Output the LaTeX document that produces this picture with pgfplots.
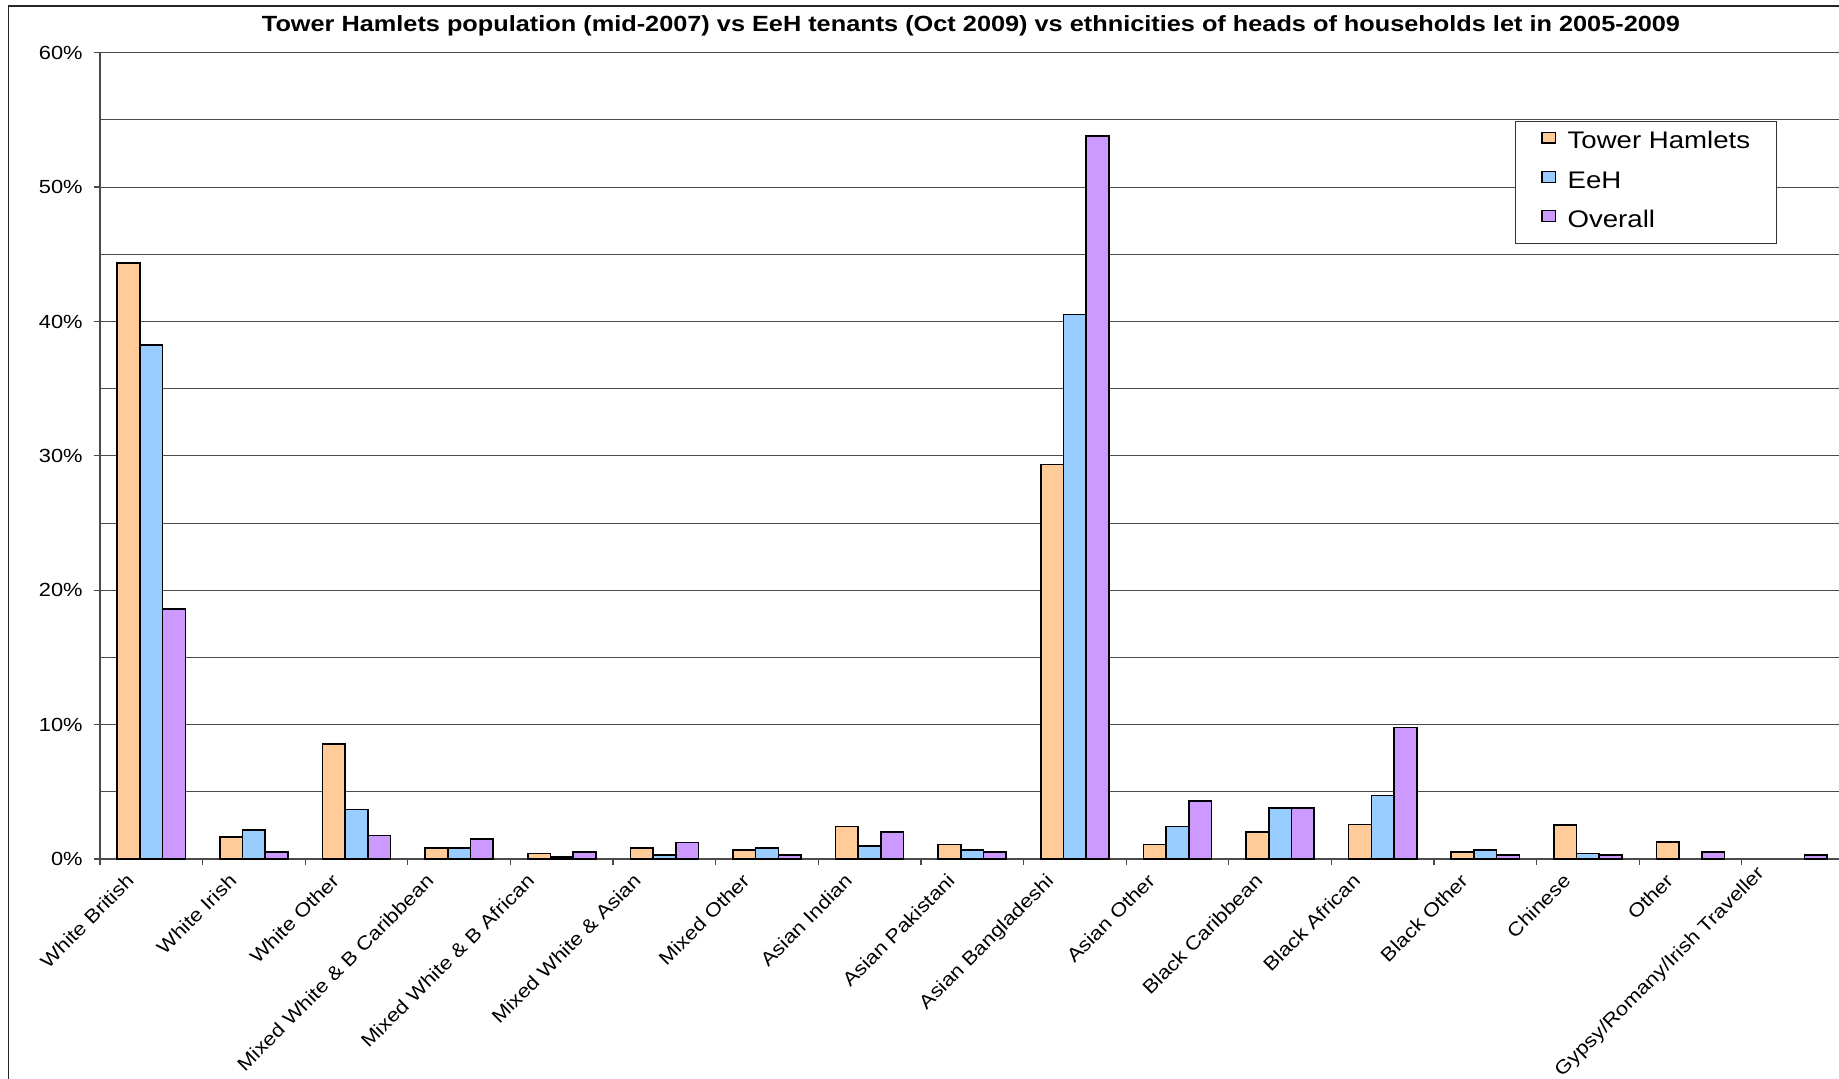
\documentclass[border=0pt]{standalone}
\usepackage{pgfplots}
\pgfplotsset{compat=1.18}
\usepackage{fontspec}
\setmainfont{Liberation Sans}[FakeStretch=1.15]

\definecolor{thorange}{HTML}{FFCC99}
\definecolor{eehblue}{HTML}{99CCFF}
\definecolor{allpurple}{HTML}{CC99FF}
\definecolor{gridgray}{HTML}{4A4A4A}

% nudge a rotated category label: #1 back along its baseline, #2 across it
\newcommand{\lblshift}[3]{\raisebox{0pt}[\dimexpr\height-#2\relax][\depth]{#3\hspace*{#1}}}

\begin{document}
\begin{tikzpicture}
% page: 1 px of the chart = 0.5pt
\useasboundingbox (0,0) rectangle (919.5pt,539pt);
\fill[white] (0,0) rectangle (919.5pt,539pt);

% chart frame (left and top edges)
\draw[black!85, line width=0.6pt] (4.2pt,-5pt) -- (4.2pt,536pt) -- (930pt,536pt);

% title
\node[anchor=base, inner sep=0pt, font=\fontsize{11pt}{13pt}\selectfont\bfseries]
  at (485.5pt,523.2pt)
  {Tower Hamlets population (mid-2007) vs EeH tenants (Oct 2009) vs ethnicities of heads of households let in 2005-2009};

\begin{axis}[
  at={(50pt,109.5pt)}, anchor=south west,
  scale only axis,
  width=872.2pt, height=403.15pt,
  xmin=-0.5, xmax=16.5,
  ymin=0, ymax=60,
  enlargelimits=false,
  axis x line*=bottom, axis y line*=left,
  axis line style={-, gridgray, line width=0.65pt},
  ybar=0pt, bar width=11.35pt,
  tick align=outside,
  major tick length=3pt, minor tick length=3pt,
  xtick={0,...,16},
  major x tick style={draw=none},
  minor xtick={-0.5,0.5,...,16.5},
  minor x tick style={gridgray, line width=0.6pt},
  xticklabels={White British, White Irish, White Other,
    {\lblshift{2.83pt}{2.83pt}{Mixed White \& B Caribbean}},
    {\lblshift{3.54pt}{3.54pt}{Mixed White \& B African}},
    {\lblshift{2.12pt}{2.12pt}{Mixed White \& Asian}},
    Mixed Other, Asian Indian, Asian Pakistani,
    {\lblshift{1.41pt}{1.41pt}{Asian Bangladeshi}},
    {\lblshift{1.77pt}{1.77pt}{Asian Other}},
    Black Caribbean,
    {\lblshift{1.77pt}{1.77pt}{Black African}},
    Black Other, Chinese, Other,
    {\lblshift{1.41pt}{7.07pt}{Gypsy/Romany/Irish Traveller}}},
  xticklabel style={font=\fontsize{9.5pt}{11pt}\selectfont, inner sep=0pt,
    xshift=-13pt, yshift=-3.5pt, rotate=45, anchor=north east},
  ytick={0,10,...,50},
  yticklabels={0\%,10\%,20\%,30\%,40\%,50\%},
  extra y ticks={60}, extra y tick labels={60\%},
  extra y tick style={grid style={black!40, line width=0.8pt}},
  minor ytick={5,15,...,55},
  minor y tick style={draw=none},
  major y tick style={gridgray, line width=0.6pt},
  yticklabel style={font=\fontsize{9.5pt}{11pt}\selectfont, inner sep=0pt,
    anchor=east, xshift=-5.5pt},
  ymajorgrids, yminorgrids,
  major grid style={gridgray, line width=0.55pt},
  minor grid style={gridgray, line width=0.55pt},
  legend style={at={(axis description cs:0.8111,0.9148)}, anchor=north west,
    draw=black!80, line width=0.5pt, fill=white,
    font=\fontsize{12pt}{14pt}\selectfont,
    inner xsep=13pt, inner ysep=4.85pt, row sep=7.5pt, column sep=5.8pt,
    nodes={inner sep=0pt, text height=8.5pt, text depth=3.5pt}},
  legend cell align=left,
  legend image code/.code={\draw[#1, line width=0.6pt] (0pt,0.4pt) rectangle (6.7pt,5.8pt);},
]
% Tower Hamlets population (mid-2007), %
\addplot[fill=thorange, draw=black, line width=0.8pt] coordinates {
  (0,44.37) (1,1.63) (2,8.55) (3,0.83) (4,0.40) (5,0.80) (6,0.68) (7,2.43)
  (8,1.08) (9,29.36) (10,1.08) (11,2.00) (12,2.58) (13,0.53) (14,2.55) (15,1.25)
};
% EeH tenants (Oct 2009), %
\addplot[fill=eehblue, draw=black, line width=0.8pt] coordinates {
  (0,38.26) (1,2.18) (2,3.68) (3,0.83) (4,0.15) (5,0.28) (6,0.83) (7,0.95)
  (8,0.68) (9,40.53) (10,2.43) (11,3.80) (12,4.73) (13,0.68) (14,0.40)
};
% Heads of households let 2005-2009 (overall), %
\addplot[fill=allpurple, draw=black, line width=0.8pt] coordinates {
  (0,18.62) (1,0.53) (2,1.75) (3,1.50) (4,0.53) (5,1.23) (6,0.28) (7,2.03)
  (8,0.53) (9,53.80) (10,4.33) (11,3.80) (12,9.80) (13,0.28) (14,0.28) (15,0.53)
  (16,0.28)
};
\legend{Tower Hamlets, EeH, Overall}
\end{axis}
\end{tikzpicture}
\end{document}
